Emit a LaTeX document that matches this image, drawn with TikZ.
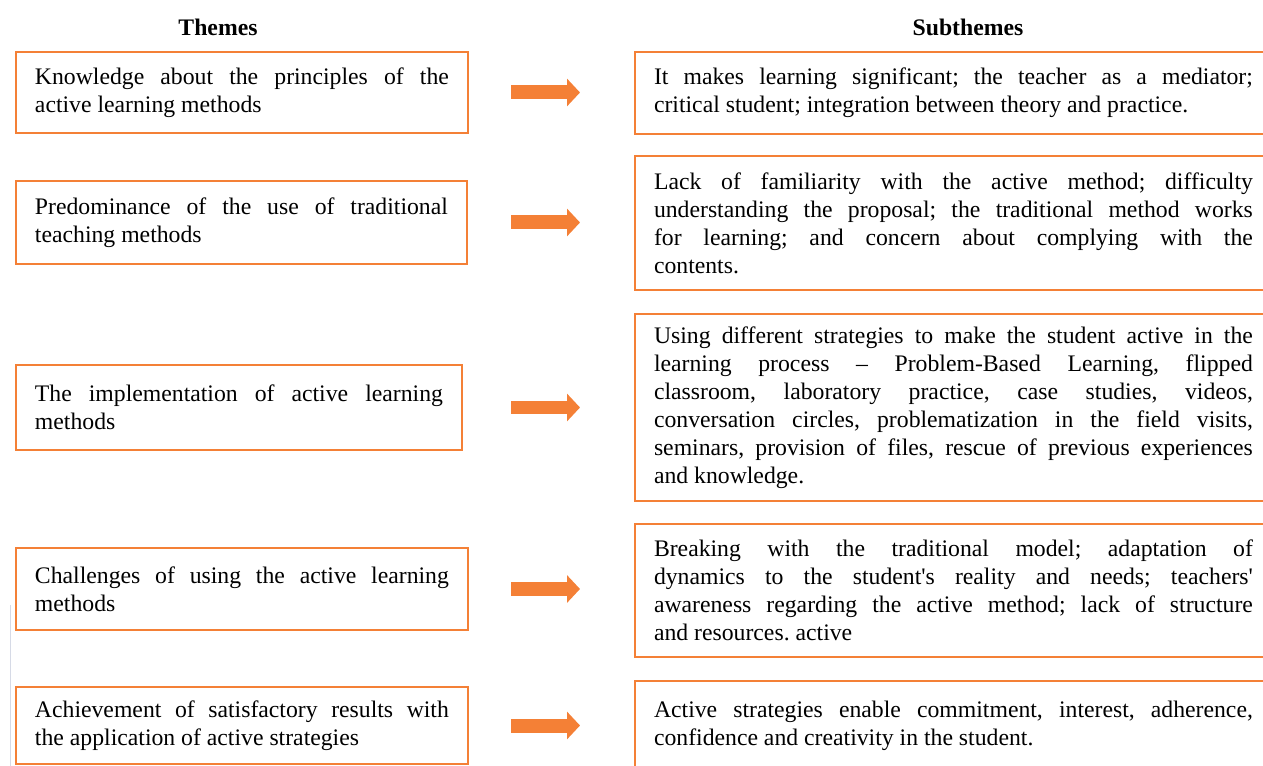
\documentclass[tikz,border=0pt]{standalone}
\usepackage{fontspec}
\setmainfont{Liberation Serif}
\usetikzlibrary{arrows.meta}
\definecolor{themeorange}{RGB}{244,128,54}
\definecolor{rulegray}{RGB}{214,218,230}

\begin{document}
\frenchspacing
\begin{tikzpicture}[x=0.02cm,y=-0.02cm,inner sep=0pt,outer sep=0pt,
textbox/.style={draw=themeorange,line width=1.1pt,rectangle,anchor=west,inner xsep=0.38cm,align=justify,font=\fontsize{13.5}{15.9}\selectfont},
themebox/.style={textbox,text width=8.28cm},
subbox/.style={textbox,text width=11.98cm},
heading/.style={font=\fontsize{13.5}{16}\selectfont\bfseries},
bigarrow/.style={draw=themeorange,line width=0.28cm,-{Triangle[width=0.54cm,length=0.26cm]}}]

\useasboundingbox (0,0) rectangle (1263,766);

\draw (218,27) node[heading] (themes) {Themes};
\draw (968,27) node[heading] (subthemes) {Subthemes};

\draw (16,92.5) node[themebox,minimum height=1.62cm] (t1) {Knowledge about the principles of the\linebreak active learning methods};
\draw (16,222.5) node[themebox,text width=8.26cm,minimum height=1.66cm] (t2) {Predominance of the use of traditional\linebreak teaching methods};
\draw (16,407.5) node[themebox,text width=8.16cm,minimum height=1.70cm] (t3) {The implementation of active learning\linebreak methods};
\draw (16,589) node[themebox,minimum height=1.64cm] (t4) {Challenges of using the active learning\linebreak methods};
\draw (16,725.5) node[themebox,minimum height=1.54cm] (t5) {Achievement of satisfactory results with\linebreak the application of active strategies};

\draw (635,93) node[subbox,minimum height=1.64cm] (s1) {It makes learning significant; the teacher as a mediator;\linebreak critical student; integration between theory and practice.};
\draw (635,223) node[subbox,minimum height=2.68cm] (s2) {Lack of familiarity with the active method; difficulty\linebreak understanding the proposal; the traditional method works\linebreak for learning; and concern about complying with the\linebreak contents.};
\draw (635,407.5) node[subbox,minimum height=3.74cm] (s3) {Using different strategies to make the student active in the\linebreak learning process -- Problem-Based Learning, flipped\linebreak classroom, laboratory practice, case studies, videos,\linebreak conversation circles, problematization in the field visits,\linebreak seminars, provision of files, rescue of previous experiences\linebreak and knowledge.};
\draw (635,590.5) node[subbox,minimum height=2.66cm] (s4) {Breaking with the traditional model; adaptation of\linebreak dynamics to the student\textquotesingle s reality and needs; teachers\textquotesingle\linebreak awareness regarding the active method; lack of structure\linebreak and resources. active};
\draw (635,726) node[subbox,minimum height=1.80cm] (s5) {Active strategies enable commitment, interest, adherence,\linebreak confidence and creativity in the student.};

\coordinate (arrowtail) at (511,0);
\coordinate (arrowtip) at (580,0);
\foreach \i in {1,...,5}
  \draw[bigarrow] (t\i.east -| arrowtail) -- (t\i.east -| arrowtip);

\draw[rulegray,line width=0.02cm] (10,605) -- (10,766);
\end{tikzpicture}
\end{document}
